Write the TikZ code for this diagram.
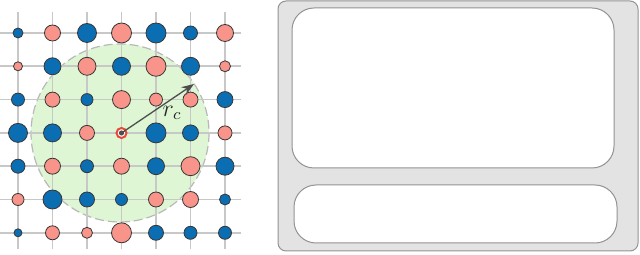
\documentclass[tikz,border=0pt]{standalone}
\usepackage{amsmath}
\usepackage{xcolor}
\usepackage{tikz}
\usetikzlibrary{arrows.meta}
\definecolor{siteblue}{RGB}{12,110,178}
\definecolor{sitepink}{RGB}{248,148,138}
\definecolor{cutgreen}{RGB}{222,246,212}
\definecolor{gridgray}{RGB}{200,200,200}
\definecolor{inkgray}{RGB}{78,78,78}
\definecolor{panelgray}{RGB}{227,227,227}
\definecolor{ringred}{RGB}{234,72,56}
\tikzset{
  gridline/.style={draw=gridgray,line width=0.8pt},
  cutoff/.style={fill=cutgreen,draw=gray!55,line width=0.6pt,
    dash pattern=on 4.5pt off 2pt},
  bsite/.style={fill=siteblue,draw=inkgray!70!black,line width=0.4pt},
  psite/.style={fill=sitepink,draw=inkgray!70!black,line width=0.4pt},
  centre/.style={circle,draw=ringred,line width=1pt,fill=white,
    minimum size=5pt,inner sep=0pt},
  radflow/.style={-{Stealth[length=2.2mm,width=1.6mm]},draw=inkgray,
    line width=0.65pt},
  panel/.style={draw=gray!85,fill=panelgray,rounded corners=4pt,
    line width=0.5pt},
  slot/.style={draw=gray!85,fill=white,rounded corners=11pt,
    line width=0.5pt}
}

\begin{document}
\begin{tikzpicture}[x=0.5pt,y=-0.5pt]
  \useasboundingbox (0,0) rectangle (640,255);
  % cut-off sphere
  \draw[cutoff] (120,133) circle[radius=89];
  % lattice
  \foreach \i in {0,...,6} {
    \draw[gridline] (0,{33+33.3*\i}) -- (241,{33+33.3*\i});
    \draw[gridline] ({18+34.5*\i},12) -- ({18+34.5*\i},249);
  }
  % sites: column/row/radius/style
  \foreach \c/\r/\s/\k in {
    1/1/5/bsite, 2/1/8/psite, 3/1/9.5/bsite, 4/1/10/psite, 5/1/10/bsite, 6/1/7/bsite, 7/1/8.5/psite,
    1/2/4.5/psite, 2/2/8.5/bsite, 3/2/9/psite, 4/2/9/bsite, 5/2/10/psite, 6/2/9/bsite, 7/2/5.5/psite,
    1/3/6.5/bsite, 2/3/7.5/psite, 3/3/6/bsite, 4/3/9/psite, 5/3/6.5/psite, 6/3/7.5/psite, 7/3/8/bsite,
    1/4/9.5/bsite, 2/4/9/bsite, 3/4/7.5/psite, 5/4/10/bsite, 6/4/8/bsite, 7/4/7/psite,
    1/5/7/bsite, 2/5/8/psite, 3/5/6.5/bsite, 4/5/8/psite, 5/5/8.5/bsite, 6/5/9.5/psite, 7/5/9/bsite,
    1/6/6/psite, 2/6/9.5/bsite, 3/6/7.5/bsite, 4/6/6/bsite, 5/6/7.5/psite, 6/6/8/psite, 7/6/5.5/bsite,
    1/7/4/bsite, 2/7/7/psite, 3/7/5.5/psite, 4/7/10/psite, 5/7/7.5/bsite, 6/7/6.5/bsite, 7/7/6.5/bsite}
    \draw[\k] ({18+34.5*(\c-1)},{33+33.3*(\r-1)}) circle[radius=\s];
  % central site and cut-off radius
  \node[centre] (ctr) at (121.5,133) {};
  \fill[inkgray] (ctr.center) circle[radius=2.6];
  \coordinate (rtip) at (194,84);
  \draw[radflow] (ctr.center) -- (rtip);
  \node[text=inkgray!50!black,font=\large] (rlab) at (172,113) {$r_c$};
  % right panel
  \draw[panel] (278,1) rectangle (638,251);
  \node[slot,minimum width=161pt,minimum height=80pt] (top) at (453,88) {};
  \node[slot,minimum width=161.5pt,minimum height=29pt] (bot) at (455.5,214) {};
\end{tikzpicture}
\end{document}
